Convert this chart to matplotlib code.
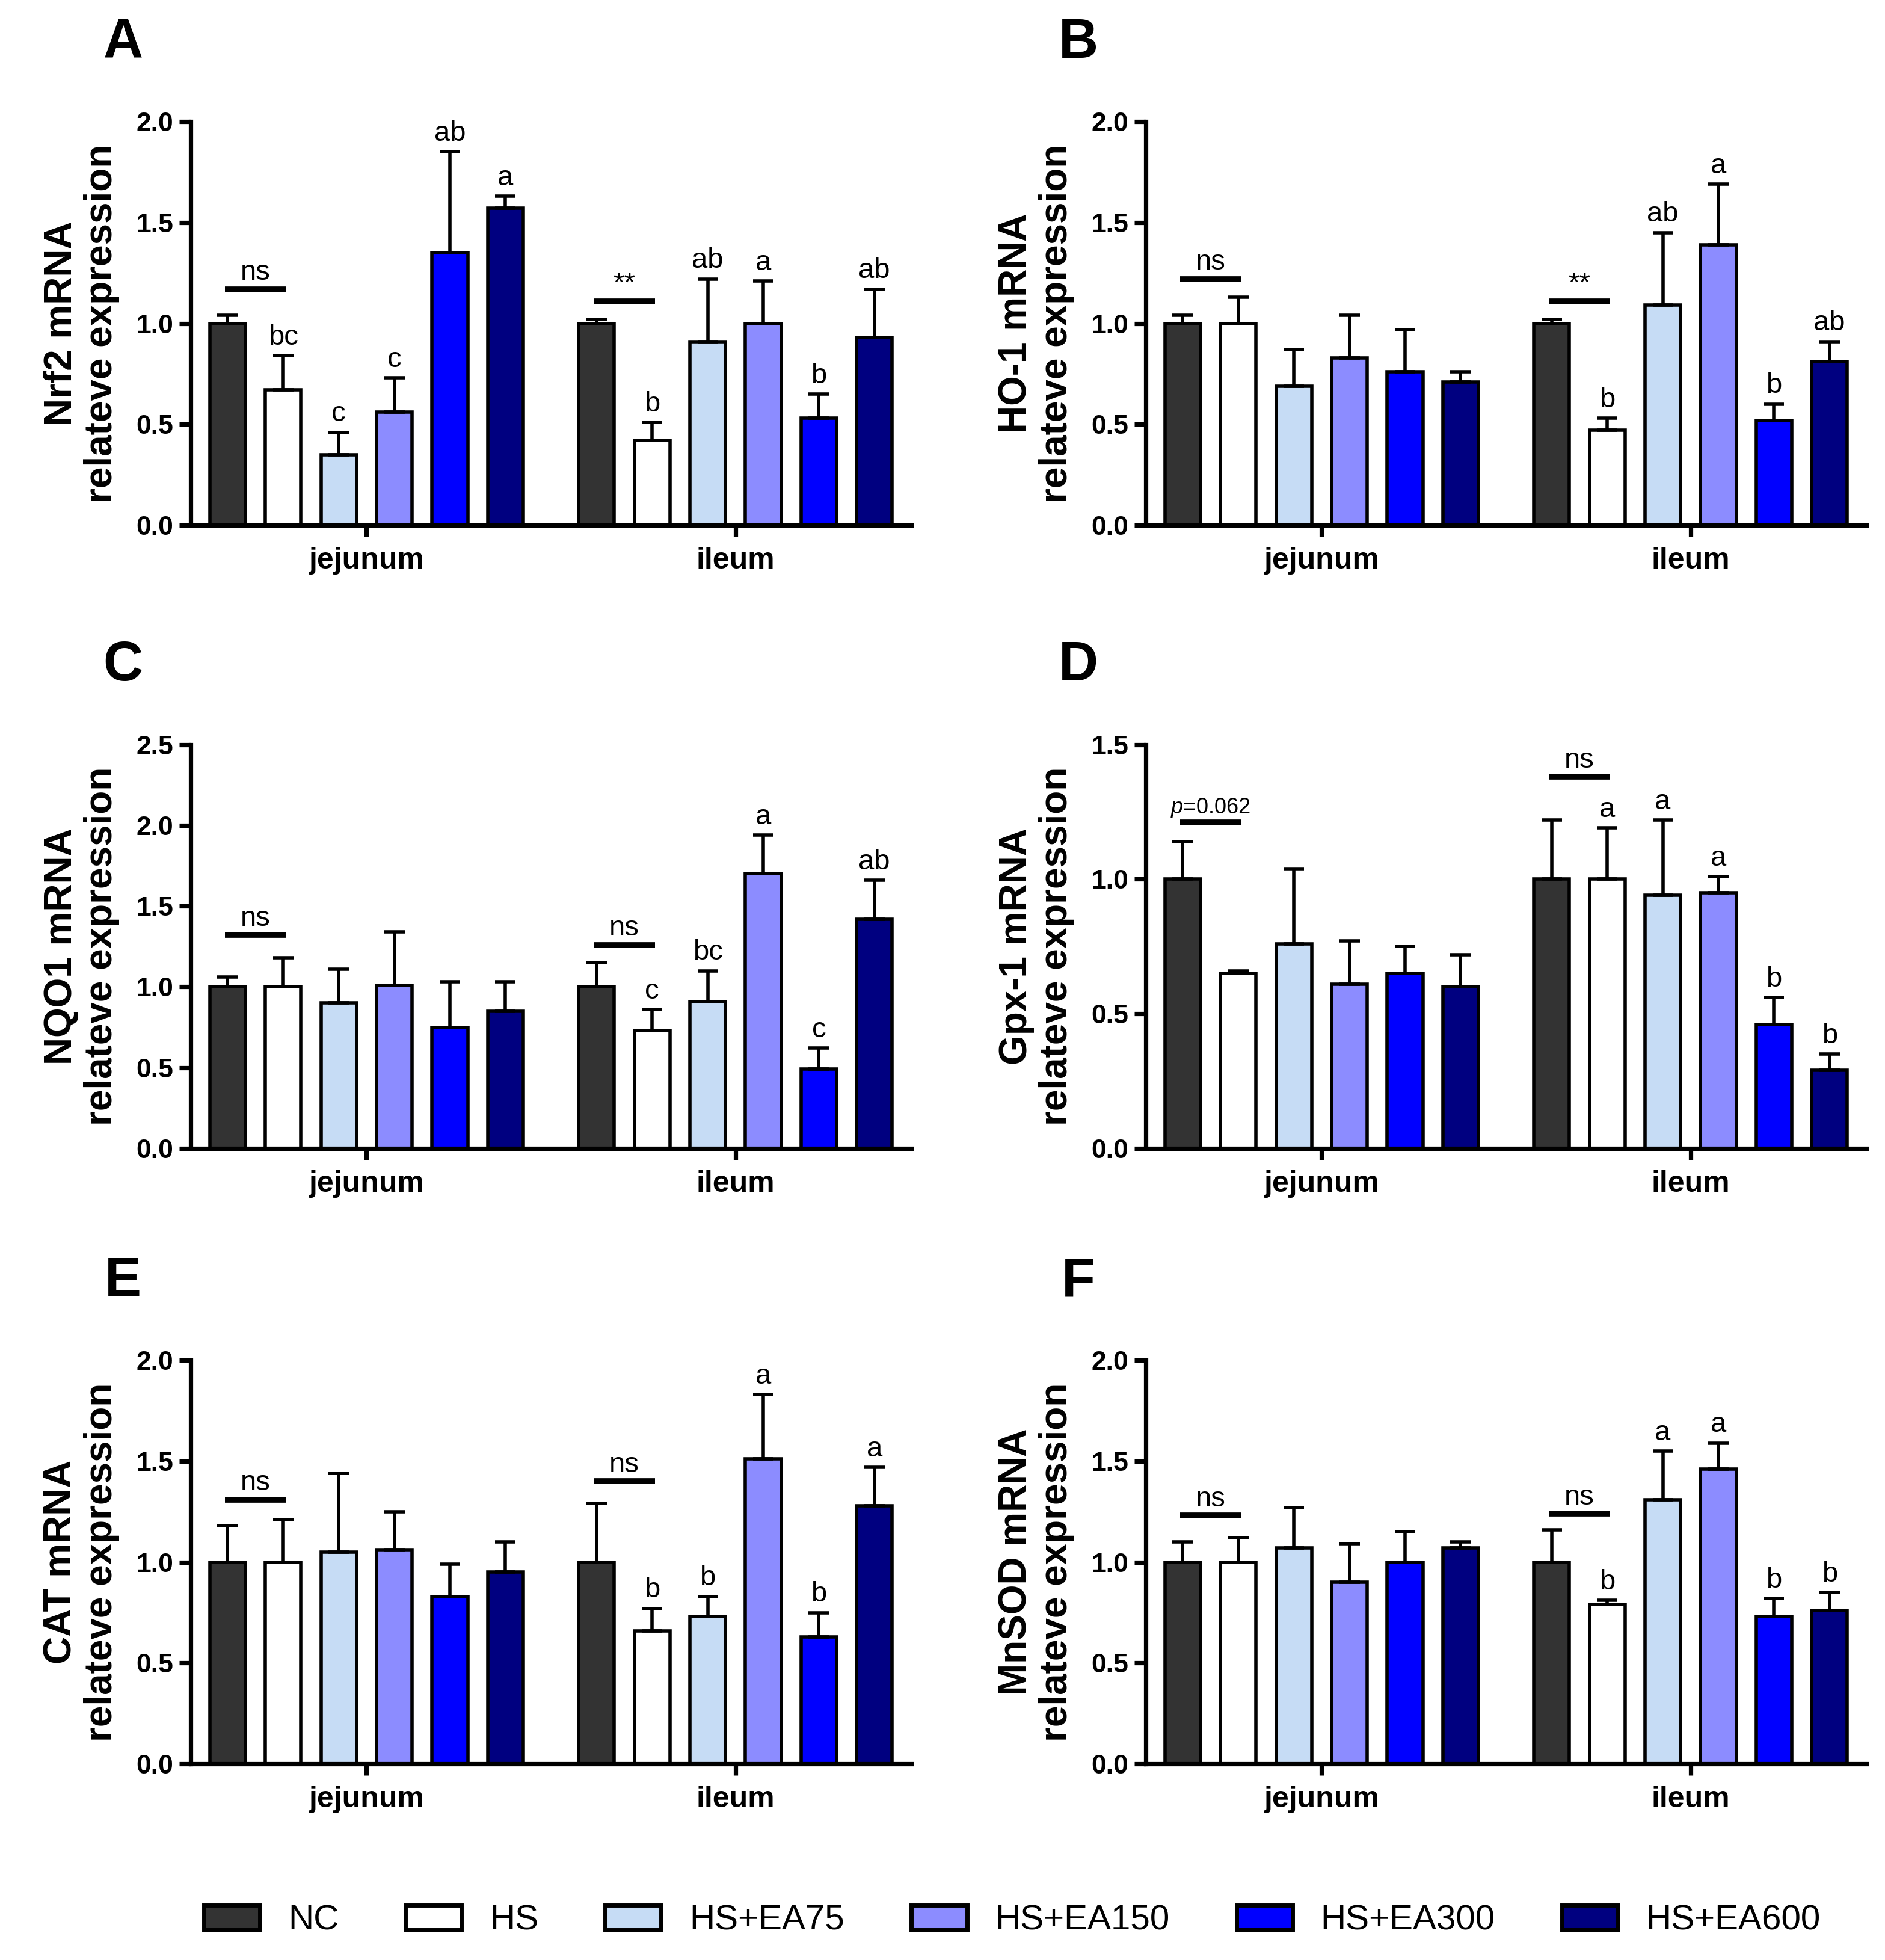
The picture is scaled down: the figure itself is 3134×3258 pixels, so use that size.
import numpy as np
import matplotlib.pyplot as plt
from matplotlib.patches import Patch

plt.rcParams['font.family'] = ['Liberation Sans', 'DejaVu Sans']
plt.rcParams['mathtext.fontset'] = 'custom'
plt.rcParams['mathtext.it'] = 'Liberation Sans:italic'
plt.rcParams['mathtext.rm'] = 'Liberation Sans'

treatments = ["NC", "HS", "HS+EA75", "HS+EA150", "HS+EA300", "HS+EA600"]
colors = ["#333333", "#ffffff", "#c6dcf5", "#8c8cff", "#0000ff", "#000080"]
segments = ["jejunum", "ileum"]

# means / SEM, jejunum then ileum
nrf2_mean = [[1.00, 0.67, 0.35, 0.56, 1.35, 1.57], [1.00, 0.42, 0.91, 1.00, 0.53, 0.93]]
nrf2_sem = [[0.04, 0.17, 0.11, 0.17, 0.50, 0.06], [0.02, 0.09, 0.31, 0.21, 0.12, 0.24]]
nrf2_let = [["", "bc", "c", "c", "ab", "a"], ["", "b", "ab", "a", "b", "ab"]]

ho1_mean = [[1.00, 1.00, 0.69, 0.83, 0.76, 0.71], [1.00, 0.47, 1.09, 1.39, 0.52, 0.81]]
ho1_sem = [[0.04, 0.13, 0.18, 0.21, 0.21, 0.05], [0.02, 0.06, 0.36, 0.30, 0.08, 0.10]]
ho1_let = [["", "", "", "", "", ""], ["", "b", "ab", "a", "b", "ab"]]

nqo1_mean = [[1.00, 1.00, 0.90, 1.01, 0.75, 0.85], [1.00, 0.73, 0.91, 1.70, 0.49, 1.42]]
nqo1_sem = [[0.06, 0.18, 0.21, 0.33, 0.28, 0.18], [0.15, 0.13, 0.19, 0.24, 0.13, 0.24]]
nqo1_let = [["", "", "", "", "", ""], ["", "c", "bc", "a", "c", "ab"]]

gpx1_mean = [[1.00, 0.65, 0.76, 0.61, 0.65, 0.60], [1.00, 1.00, 0.94, 0.95, 0.46, 0.29]]
gpx1_sem = [[0.14, 0.01, 0.28, 0.16, 0.10, 0.12], [0.22, 0.19, 0.28, 0.06, 0.10, 0.06]]
gpx1_let = [["", "", "", "", "", ""], ["", "a", "a", "a", "b", "b"]]

cat_mean = [[1.00, 1.00, 1.05, 1.06, 0.83, 0.95], [1.00, 0.66, 0.73, 1.51, 0.63, 1.28]]
cat_sem = [[0.18, 0.21, 0.39, 0.19, 0.16, 0.15], [0.29, 0.11, 0.10, 0.32, 0.12, 0.19]]
cat_let = [["", "", "", "", "", ""], ["", "b", "b", "a", "b", "a"]]

mnsod_mean = [[1.00, 1.00, 1.07, 0.90, 1.00, 1.07], [1.00, 0.79, 1.31, 1.46, 0.73, 0.76]]
mnsod_sem = [[0.10, 0.12, 0.20, 0.19, 0.15, 0.03], [0.16, 0.02, 0.24, 0.13, 0.09, 0.09]]
mnsod_let = [["", "", "", "", "", ""], ["", "b", "a", "a", "b", "b"]]

# NC vs HS comparison: (text, height) for jejunum, ileum
nrf2_sig = [("ns", 1.17), ("**", 1.11)]
ho1_sig = [("ns", 1.22), ("**", 1.11)]
nqo1_sig = [("ns", 1.32), ("ns", 1.26)]
gpx1_sig = [("$\\it{p}$=0.062", 1.21), ("ns", 1.38)]
cat_sig = [("ns", 1.31), ("ns", 1.40)]
mnsod_sig = [("ns", 1.23), ("ns", 1.24)]

panels = [
    ("A", "Nrf2 mRNA", nrf2_mean, nrf2_sem, nrf2_let, nrf2_sig, 2.0),
    ("B", "HO-1 mRNA", ho1_mean, ho1_sem, ho1_let, ho1_sig, 2.0),
    ("C", "NQO1 mRNA", nqo1_mean, nqo1_sem, nqo1_let, nqo1_sig, 2.5),
    ("D", "Gpx-1 mRNA", gpx1_mean, gpx1_sem, gpx1_let, gpx1_sig, 1.5),
    ("E", "CAT mRNA", cat_mean, cat_sem, cat_let, cat_sig, 2.0),
    ("F", "MnSOD mRNA", mnsod_mean, mnsod_sem, mnsod_let, mnsod_sig, 2.0),
]

fig = plt.figure(figsize=(15.67, 16.29), dpi=200)

lefts = [0.1013, 0.608]
bottoms = [0.732, 0.4141, 0.10]
w, h = 0.382, 0.206
group_offset = [0.0, 6.64]
bw = 0.64
lw = 2.0

for k, (tag, gene, means, sems, lets, sigs, ymax) in enumerate(panels):
    row, col = divmod(k, 2)
    ax = fig.add_axes([lefts[col], bottoms[row], w, h])
    for g in range(2):
        x = np.arange(6) + group_offset[g]
        m = np.array(means[g])
        s = np.array(sems[g])
        ax.bar(x, m, width=bw, color=colors, edgecolor="black", linewidth=lw, zorder=2)
        ax.errorbar(x, m, yerr=[np.zeros(6), s], fmt="none", ecolor="black",
                    elinewidth=lw, capsize=6, capthick=lw, zorder=3)
        for xi, top, lab in zip(x, m + s, lets[g]):
            if lab:
                ax.annotate(lab, (xi, top), xytext=(0, 3), textcoords="offset points",
                            ha="center", va="bottom", fontsize=17)
        txt, yy = sigs[g]
        ax.plot([x[0] - 0.05, x[1] + 0.05], [yy, yy], color="black", lw=3.5,
                solid_capstyle="butt", zorder=3)
        fs = 13 if "0.062" in txt else 17
        ax.annotate(txt, ((x[0] + x[1]) / 2, yy), xytext=(0, 2), textcoords="offset points",
                    ha="center", va="bottom", fontsize=fs)
    ax.set_xlim(-0.66, 12.3)
    ax.set_ylim(0, ymax)
    ax.set_yticks(np.arange(0, ymax + 0.01, 0.5))
    ax.set_yticklabels([f"{v:.1f}" for v in np.arange(0, ymax + 0.01, 0.5)])
    ax.set_xticks([2.5, 2.5 + group_offset[1]])
    ax.set_xticklabels(segments)
    for sp in ["top", "right"]:
        ax.spines[sp].set_visible(False)
    for sp in ["left", "bottom"]:
        ax.spines[sp].set_linewidth(2.6)
    ax.tick_params(axis="both", width=2.6, length=7, labelsize=16)
    ax.tick_params(axis="x", labelsize=18, pad=6)
    for t in ax.get_xticklabels() + ax.get_yticklabels():
        t.set_fontweight("bold")
    ax.set_ylabel(gene + "\nrelateve expression", fontsize=23, fontweight="bold",
                  labelpad=10, linespacing=1.15)
    fig.text(lefts[col] - 0.036, bottoms[row] + h + 0.04, tag, fontsize=33,
             fontweight="bold", ha="center", va="center")

handles = [Patch(facecolor=c, edgecolor="black", linewidth=2.5) for c in colors]
fig.legend(handles, treatments, loc="center", bbox_to_anchor=(0.537, 0.02), ncol=6,
           frameon=False, fontsize=21, handlelength=1.6, handleheight=0.7,
           columnspacing=1.9, handletextpad=0.8)

fig.savefig("out.png", dpi=200)
plt.close(fig)
